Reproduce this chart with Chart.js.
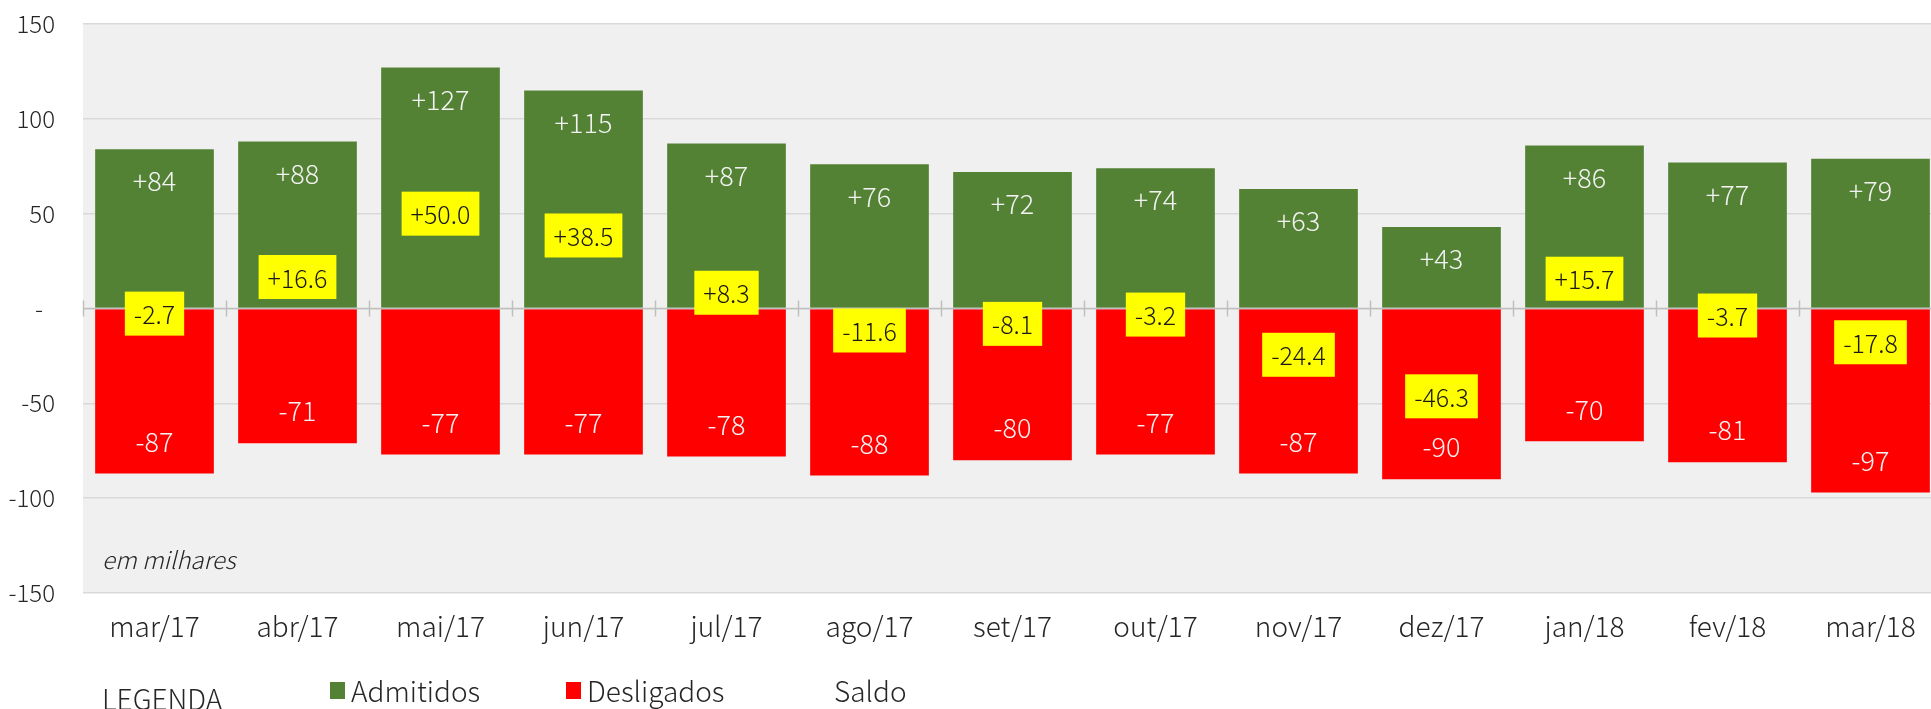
<!DOCTYPE html>
<html>
<head>
<meta charset="utf-8">
<script src="https://cdn.jsdelivr.net/npm/chart.js@4.4.0/dist/chart.umd.min.js"></script>
<style>
  html, body { margin: 0; padding: 0; background: #fff; overflow: hidden; }
  canvas { display: block; }
</style>
</head>
<body>
<canvas id="caged" width="1942" height="709"></canvas>
<script>
var meses = ["mar/17", "abr/17", "mai/17", "jun/17", "jul/17", "ago/17", "set/17", "out/17", "nov/17", "dez/17", "jan/18", "fev/18", "mar/18"];
var admitidos = [84, 88, 127, 115, 87, 76, 72, 74, 63, 43, 86, 77, 79];
var desligados = [-87, -71, -77, -77, -78, -88, -80, -77, -87, -90, -70, -81, -97];
var saldo = [-2.7, 16.6, 50.0, 38.5, 8.3, -11.6, -8.1, -3.2, -24.4, -46.3, 15.7, -3.7, -17.8];
var eixoY = [-150, -100, -50, 0, 50, 100, 150];

var FONTE = '"Noto Sans CJK JP", "Noto Sans", sans-serif';
var PESO = "300";
var VERDE = "#548235";
var VERMELHO = "#ff0000";

// fundo cinza da área de plotagem
var fundo = {
  id: "fundo",
  beforeDraw: function(chart) {
    var a = chart.chartArea, ctx = chart.ctx;
    ctx.save();
    ctx.fillStyle = "#f0f0f0";
    ctx.fillRect(a.left, a.top, a.right - a.left, a.bottom - a.top);
    ctx.restore();
  }
};

// linha do zero, rótulos das barras e caixas do saldo
var rotulos = {
  id: "rotulos",
  afterDatasetsDraw: function(chart) {
    var ctx = chart.ctx, a = chart.chartArea;
    var y0 = chart.scales.y.getPixelForValue(0);
    var n = meses.length;
    var passo = (a.right - a.left) / n;

    ctx.save();
    ctx.strokeStyle = "#bfbfbf";
    ctx.lineWidth = 1.5;
    ctx.beginPath();
    ctx.moveTo(a.left, y0);
    ctx.lineTo(a.right, y0);
    for (var k = 0; k <= n; k++) {
      var xt = Math.round(a.left + k * passo) + 0.5;
      ctx.moveTo(xt, y0 - 8);
      ctx.lineTo(xt, y0 + 8);
    }
    ctx.stroke();

    ctx.textAlign = "center";
    ctx.textBaseline = "middle";
    ctx.font = PESO + " 27px " + FONTE;
    ctx.fillStyle = "#f2f2f2";
    var mA = chart.getDatasetMeta(0), mD = chart.getDatasetMeta(1);
    mA.data.forEach(function(b, i) {
      ctx.fillText("+" + admitidos[i], b.x, b.y + 32);
    });
    mD.data.forEach(function(b, i) {
      ctx.fillText(String(desligados[i]), b.x, b.y - 32);
    });

    var mS = chart.getDatasetMeta(2);
    ctx.font = PESO + " 25px " + FONTE;
    mS.data.forEach(function(p, i) {
      var v = saldo[i];
      var txt = (v > 0 ? "+" : "") + v.toFixed(1);
      var w = ctx.measureText(txt).width + 18;
      var h = 44;
      ctx.fillStyle = "#ffff00";
      ctx.fillRect(p.x - w / 2, p.y - h / 2, w, h);
      ctx.fillStyle = "#1a1a1a";
      ctx.fillText(txt, p.x, p.y + 1);
    });

    ctx.textAlign = "left";
    ctx.font = "italic " + PESO + " 24px " + FONTE;
    ctx.fillStyle = "#262626";
    ctx.fillText("em milhares", 102, 560);
    ctx.restore();
  },
  afterDraw: function(chart) {
    var ctx = chart.ctx;
    ctx.save();
    ctx.textBaseline = "middle";
    ctx.textAlign = "left";
    ctx.fillStyle = "#262626";
    ctx.font = PESO + " 28px " + FONTE;
    ctx.fillText("LEGENDA", 102, 699);
    ctx.fillStyle = VERDE;
    ctx.fillRect(330, 682, 15, 17);
    ctx.fillStyle = VERMELHO;
    ctx.fillRect(566, 682, 15, 17);
    ctx.fillStyle = "#262626";
    ctx.fillText("Admitidos", 351, 691);
    ctx.fillText("Desligados", 587, 691);
    ctx.fillText("Saldo", 834, 691);
    ctx.restore();
  }
};

new Chart(document.getElementById("caged"), {
  data: {
    labels: meses,
    datasets: [
      { type: "bar", label: "Admitidos", data: admitidos, backgroundColor: VERDE,
        barPercentage: 0.83, categoryPercentage: 1 },
      { type: "bar", label: "Desligados", data: desligados, backgroundColor: VERMELHO,
        barPercentage: 0.83, categoryPercentage: 1 },
      { type: "line", label: "Saldo", data: saldo, showLine: false,
        pointRadius: 0, pointHoverRadius: 0 }
    ]
  },
  options: {
    responsive: false,
    animation: false,
    events: [],
    layout: { padding: 0 },
    plugins: { legend: { display: false }, tooltip: { enabled: false } },
    scales: {
      x: {
        stacked: true,
        grid: { display: false, drawTicks: false },
        border: { display: false },
        ticks: { color: "#262626", font: { family: FONTE, size: 28, weight: PESO }, padding: 17 },
        afterFit: function(s) { s.height = 116; }
      },
      y: {
        min: eixoY[0],
        max: eixoY[eixoY.length - 1],
        afterBuildTicks: function(s) { s.ticks = eixoY.map(function(v) { return { value: v }; }); },
        grid: { color: "#d9d9d9", lineWidth: 1.5, drawTicks: false },
        border: { display: false },
        ticks: {
          color: "#262626",
          font: { family: FONTE, size: 24, weight: PESO },
          padding: 28,
          callback: function(v) { return v === 0 ? "-\u2002" : v; }
        },
        afterFit: function(s) {
          s.width = 83;
          s.paddingTop = 24;
          s.paddingBottom = 0;
        }
      }
    }
  },
  plugins: [fundo, rotulos]
});
</script>
</body>
</html>
